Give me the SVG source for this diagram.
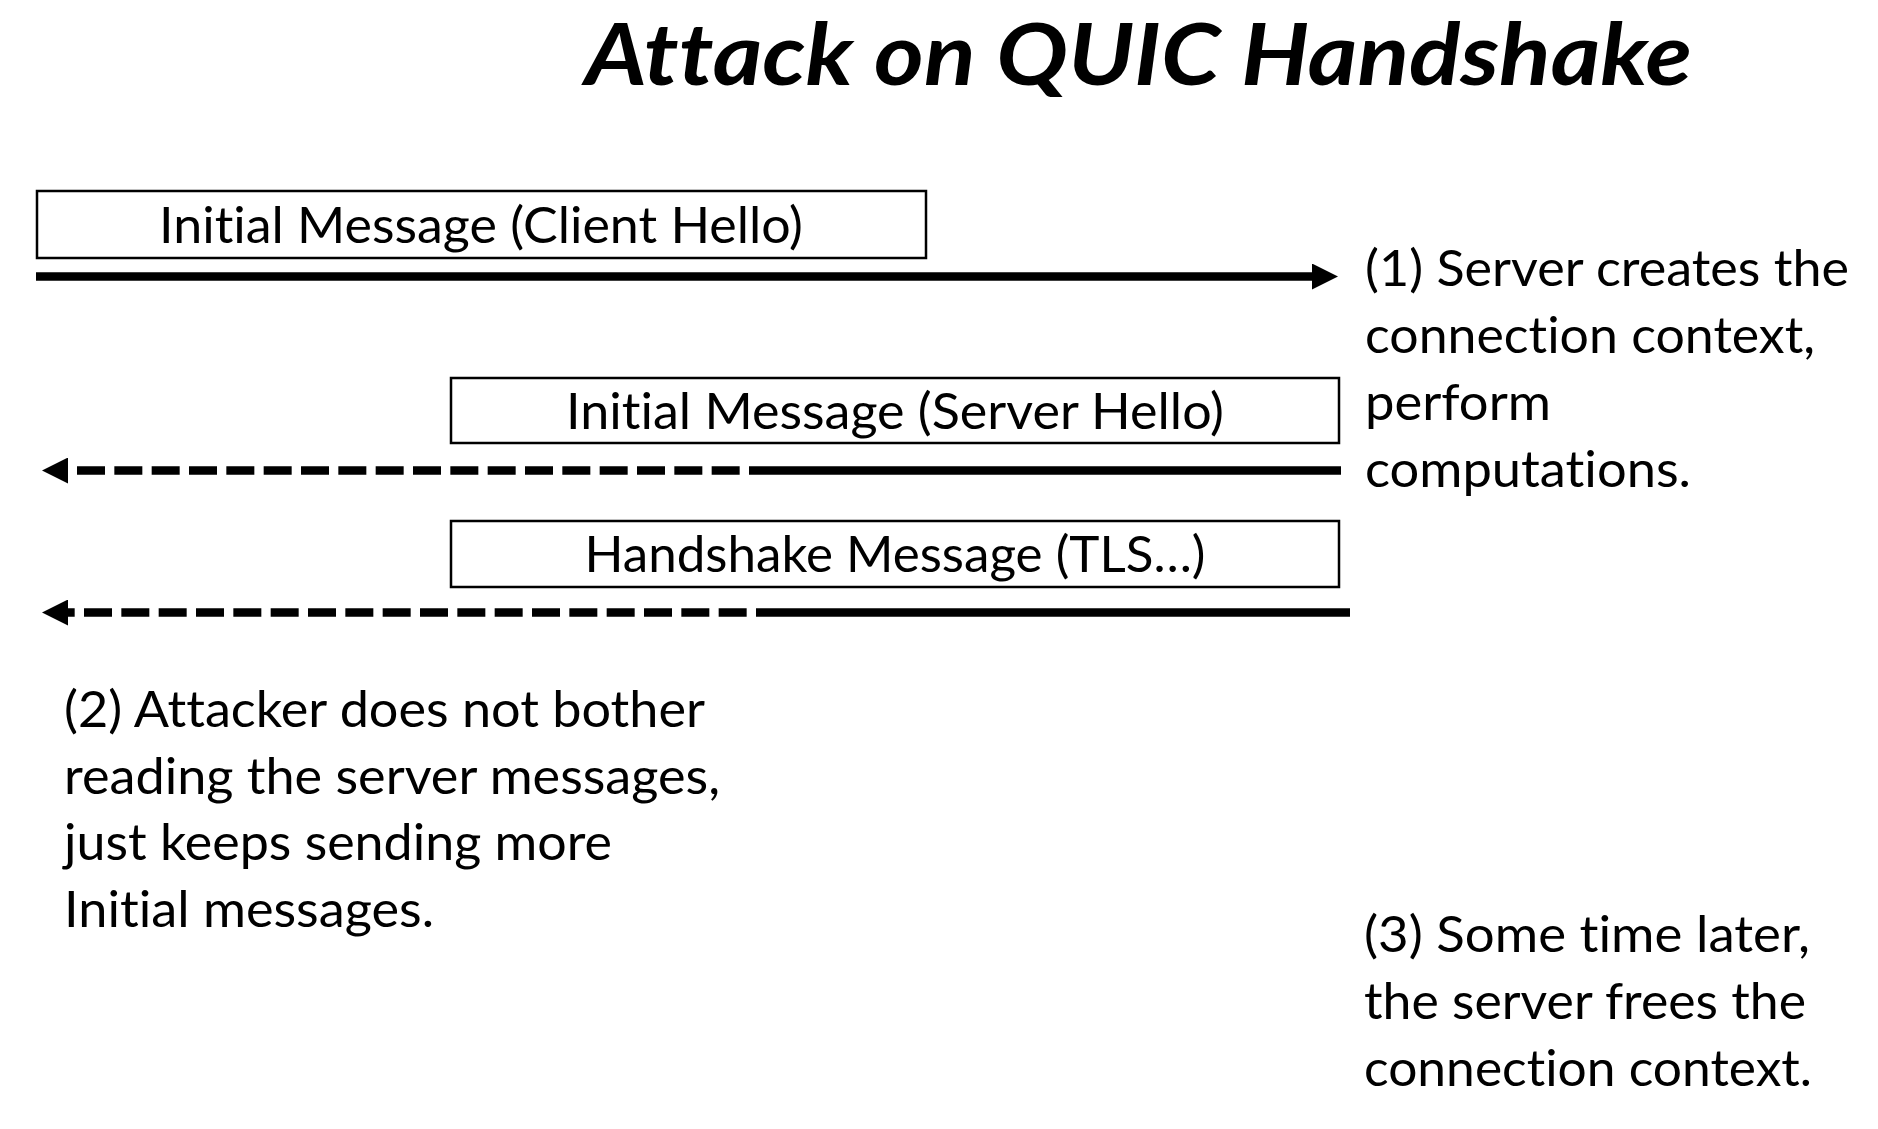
<svg xmlns="http://www.w3.org/2000/svg" width="1878" height="1129" viewBox="0 0 1878 1129">
<style>
  .t { font-family: Lato, "Open Sans", "Liberation Sans", sans-serif; font-size: 50px; fill: #000; font-variant-ligatures: none; font-feature-settings: "liga" 0, "clig" 0; }
  .title { font-family: Lato, "Open Sans", "Liberation Sans", sans-serif; font-size: 86px; font-weight: bold; font-style: italic; fill: #000; font-variant-ligatures: none; font-feature-settings: "liga" 0, "clig" 0; }
  .box { fill: #fff; stroke: #000; stroke-width: 2.5; }
  .solid { fill: none; stroke: #000; stroke-width: 8.5; }
  .dash { fill: none; stroke: #000; stroke-width: 8.5; stroke-dasharray: 28 9.333; }
</style>
<defs>
  <marker id="head" viewBox="0 0 26 26" refX="0" refY="13" markerWidth="26" markerHeight="26" markerUnits="userSpaceOnUse" orient="auto">
    <path d="M0,0 L26,13 L0,26 z" fill="#000"/>
  </marker>
</defs>
<rect width="1878" height="1129" fill="#fff"/>
<text class="title" x="585" y="85" textLength="1107" lengthAdjust="spacingAndGlyphs">Attack on QUIC Handshake</text>

<g id="connectors">
  <path class="solid" d="M36,276.5 L1312,276.5" marker-end="url(#head)"/>
  <path class="solid" d="M777,470.5 L1341,470.5"/>
  <path class="dash" d="M777,470.5 L68,470.5" marker-end="url(#head)"/>
  <path class="solid" d="M784,612.5 L1350,612.5"/>
  <path class="dash" d="M784,612.5 L68,612.5" marker-end="url(#head)"/>
</g>

<g id="client-hello">
  <rect class="box" x="37" y="191" width="889" height="67"/>
  <text class="t" x="481" y="243" text-anchor="middle" textLength="644" lengthAdjust="spacingAndGlyphs">Initial Message (Client Hello)</text>
</g>
<g id="server-hello">
  <rect class="box" x="451" y="378" width="888" height="65"/>
  <text class="t" x="895" y="428.5" text-anchor="middle" textLength="658" lengthAdjust="spacingAndGlyphs">Initial Message (Server Hello)</text>
</g>
<g id="handshake">
  <rect class="box" x="451" y="521" width="888" height="66"/>
  <text class="t" x="895" y="572" text-anchor="middle" textLength="621" lengthAdjust="spacingAndGlyphs">Handshake Message (TLS…)</text>
</g>

<g id="note1">
  <text class="t" x="1365" y="286" textLength="484" lengthAdjust="spacingAndGlyphs">(1) Server creates the</text>
  <text class="t" x="1365" y="353" textLength="450" lengthAdjust="spacingAndGlyphs">connection context,</text>
  <text class="t" x="1365" y="420" textLength="186" lengthAdjust="spacingAndGlyphs">perform</text>
  <text class="t" x="1365" y="487" textLength="326" lengthAdjust="spacingAndGlyphs">computations.</text>
</g>
<g id="note2">
  <text class="t" x="64" y="727" textLength="641" lengthAdjust="spacingAndGlyphs">(2) Attacker does not bother</text>
  <text class="t" x="64" y="793.5" textLength="656" lengthAdjust="spacingAndGlyphs">reading the server messages,</text>
  <text class="t" x="64" y="860" textLength="548" lengthAdjust="spacingAndGlyphs">just keeps sending more</text>
  <text class="t" x="64" y="926.5" textLength="370" lengthAdjust="spacingAndGlyphs">Initial messages.</text>
</g>
<g id="note3">
  <text class="t" x="1364" y="952" textLength="446" lengthAdjust="spacingAndGlyphs">(3) Some time later,</text>
  <text class="t" x="1364" y="1019" textLength="442" lengthAdjust="spacingAndGlyphs">the server frees the</text>
  <text class="t" x="1364" y="1086" textLength="448" lengthAdjust="spacingAndGlyphs">connection context.</text>
</g>
</svg>
